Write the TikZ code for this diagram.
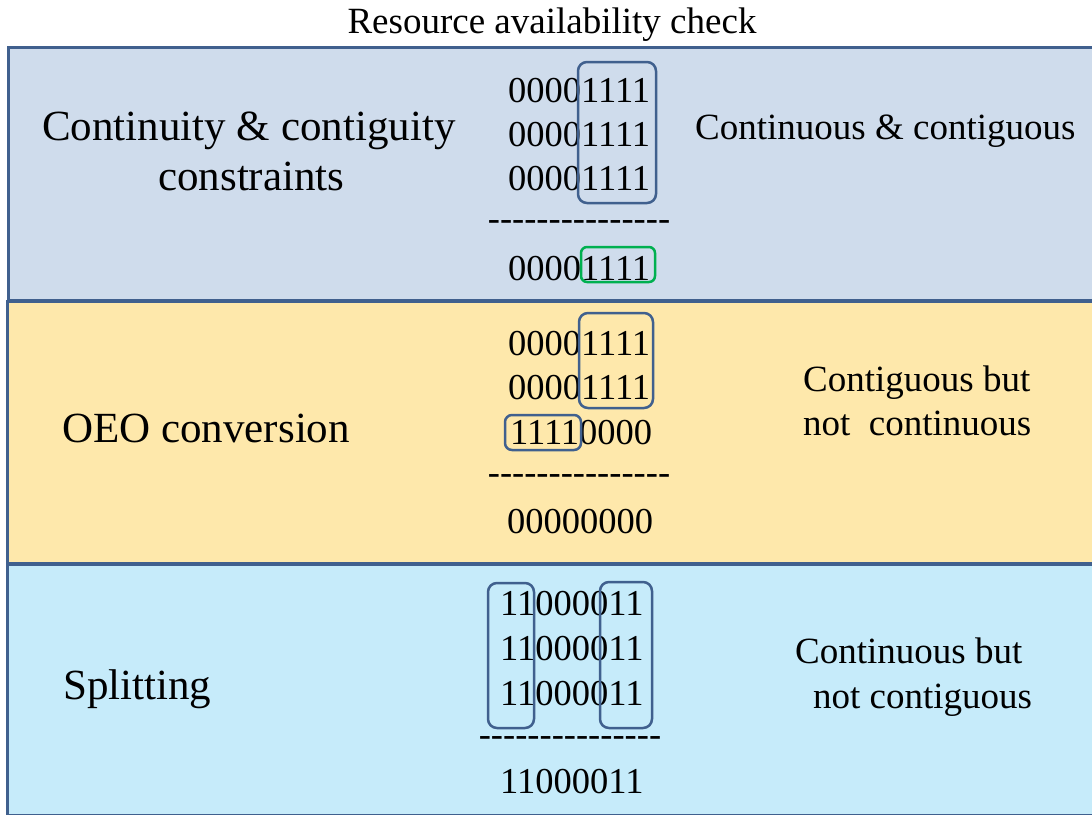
\documentclass[tikz,border=0pt]{standalone}
\usepackage{fontspec}
\setmainfont{Liberation Serif}
\newfontfamily\tnr{Liberation Serif}
\definecolor{edgeblue}{RGB}{64,96,142}
\definecolor{fillA}{RGB}{207,220,236}
\definecolor{fillB}{RGB}{254,232,171}
\definecolor{fillC}{RGB}{198,235,250}
\definecolor{okgreen}{RGB}{0,176,80}
\newcommand\dashrow{-\kern0pt-\kern0pt-\kern0pt-\kern0pt-\kern0pt-\kern0pt-\kern0pt-\kern0pt-\kern0pt-\kern0pt-\kern0pt-\kern0pt-\kern0pt-\kern0pt-}
\tikzset{
  panel/.style={draw=edgeblue, line width=3pt},
  biglabel/.style={anchor=base west, inner sep=0pt, font=\tnr\fontsize{43}{50}\selectfont},
  label37/.style={anchor=base west, inner sep=0pt, font=\tnr\fontsize{37}{44}\selectfont},
  bits/.style={anchor=base west, inner sep=0pt, font=\tnr\fontsize{36.5}{44}\selectfont},
  dashes/.style={anchor=center, inner sep=0pt, font=\tnr\fontsize{36.5}{44}\selectfont},
  selbox/.style={draw=edgeblue, line width=2.5pt, rounded corners=9pt},
  okbox/.style={draw=okgreen, line width=2.5pt, rounded corners=6pt}
}
\begin{document}
\begin{tikzpicture}[x=1pt,y=-1pt]
\useasboundingbox (0,0) rectangle (1092,814);
\clip (0,0) rectangle (1092,814);
\fill[white] (0,0) rectangle (1092,814);
% title
\node[anchor=base, inner sep=0pt, font=\tnr\fontsize{37}{44}\selectfont] (title) at (552,33) {Resource availability check};
% panels
\draw[panel, fill=fillA] (8,47) rectangle (1120,300);
\draw[panel, fill=fillB] (7,301.5) rectangle (1120,563);
\draw[panel, fill=fillC] (7,564.5) rectangle (1120,815);
% panel 1
\node[biglabel] (l1a) at (42,140) {Continuity \& contiguity};
\node[biglabel] (l1b) at (158,190) {constraints};
\node[label37] (r1) at (695,139) {Continuous \& contiguous};
\node[bits] (a1) at (508,102) {00001111};
\node[bits] (a2) at (508,146) {00001111};
\node[bits] (a3) at (508,190) {00001111};
\node[dashes] (ad) at (579,226) {\dashrow};
\node[bits] (ar) at (508,280) {00001111};
\draw[selbox] (578,62) rectangle (656,203);
\draw[okbox] (581,247) rectangle (655,282);
% panel 2
\node[biglabel] (l2) at (62,442) {OEO conversion};
\node[label37] (r2a) at (803,391) {Contiguous but};
\node[label37] (r2b) at (803,435) {not~ continuous};
\node[bits] (b1) at (508,355) {00001111};
\node[bits] (b2) at (508,399) {00001111};
\node[bits] (b3) at (510,444) {11110000};
\node[dashes] (bd) at (579,480) {\dashrow};
\node[bits] (br) at (507,533) {00000000};
\draw[selbox] (579,313) rectangle (653,408);
\draw[selbox, rounded corners=7pt] (505,415) rectangle (581,450);
% panel 3
\node[biglabel] (l3) at (63,699) {Splitting};
\node[label37] (r3a) at (795,663) {Continuous but};
\node[label37] (r3b) at (813,708) {not contiguous};
\node[bits] (c1) at (500,615) {11000011};
\node[bits] (c2) at (500,660) {11000011};
\node[bits] (c3) at (500,705) {11000011};
\node[dashes] (cd) at (570,742) {\dashrow};
\node[bits] (cr) at (500,793) {11000011};
\draw[selbox] (488,583) rectangle (534,728);
\draw[selbox] (600,582) rectangle (652,728);
\end{tikzpicture}
\end{document}
